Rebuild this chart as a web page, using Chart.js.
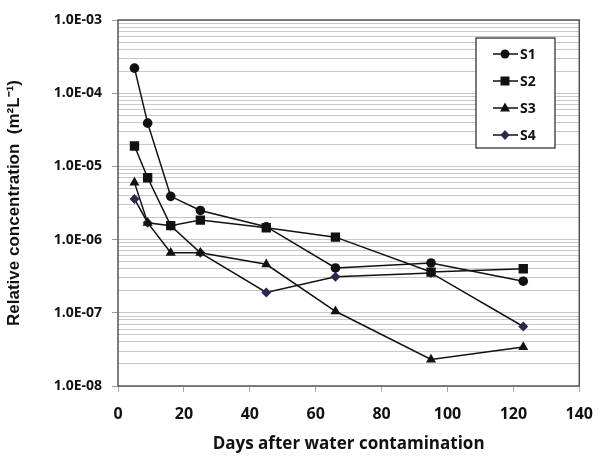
<!DOCTYPE html>
<html>
<head>
<meta charset="utf-8">
<script src="https://cdn.jsdelivr.net/npm/chart.js"></script>
<style>
  html, body { margin: 0; padding: 0; background: #fff; }
  #wrap { width: 606px; height: 458px; }
</style>
</head>
<body>
<div id="wrap"><canvas id="conc-chart" width="606" height="458"></canvas></div>
<script>
// days after contamination
const days = [5, 9, 16, 25, 45, 66, 95, 123];
// relative concentration (m2/L) per site
const s1 = [2.2e-4, 3.9e-5, 3.9e-6, 2.5e-6, 1.5e-6, 4.1e-7, 4.8e-7, 2.7e-7];
const s2 = [1.9e-5, 7.0e-6, 1.55e-6, 1.85e-6, 1.45e-6, 1.08e-6, 3.6e-7, 4.0e-7];
const s3 = [6.0e-6, 1.7e-6, 6.6e-7, 6.6e-7, 4.6e-7, 1.05e-7, 2.3e-8, 3.4e-8];
const s4 = [3.6e-6, 1.7e-6, 1.55e-6, 6.6e-7, 1.9e-7, 3.1e-7, 3.5e-7, 6.5e-8];
const seriesNames = ["S1", "S2", "S3", "S4"];
const xTicks = [0, 20, 40, 60, 80, 100, 120, 140];
const yDecades = [-8, -7, -6, -5, -4, -3];

const canvas = document.getElementById("conc-chart");
const ctx = canvas.getContext("2d");

function toPoints(ys) {
  return days.map((d, i) => ({ x: d, y: ys[i] }));
}

function isDecade(v) {
  const l = Math.log10(v);
  return Math.abs(l - Math.round(l)) < 1e-6;
}

// draw a marker the same way for the legend
function marker(c, style, x, y, color) {
  c.save();
  c.fillStyle = color;
  c.beginPath();
  if (style === "circle") {
    c.arc(x, y, 4.5, 0, Math.PI * 2);
  } else if (style === "rect") {
    c.rect(x - 4.5, y - 4.5, 9, 9);
  } else if (style === "triangle") {
    c.moveTo(x, y - 5.5);
    c.lineTo(x + 5, y + 3.5);
    c.lineTo(x - 5, y + 3.5);
    c.closePath();
  } else {
    c.moveTo(x, y - 5);
    c.lineTo(x + 4.5, y);
    c.lineTo(x, y + 5);
    c.lineTo(x - 4.5, y);
    c.closePath();
  }
  c.fill();
  c.restore();
}

const boxPlugin = {
  id: "boxAndLegend",
  afterDraw(chart) {
    const c = chart.ctx;
    const a = chart.chartArea;
    c.save();
    c.strokeStyle = "#555";
    c.lineWidth = 1.5;
    c.strokeRect(a.left, a.top, a.right - a.left, a.bottom - a.top);

    // legend box inside the plot, top right
    const bx = 476, by = 38, bw = 79, bh = 110;
    c.fillStyle = "#fff";
    c.fillRect(bx, by, bw, bh);
    c.strokeStyle = "#333";
    c.lineWidth = 1.3;
    c.strokeRect(bx, by, bw, bh);
    c.font = "bold 14px 'Open Sans', sans-serif";
    c.textBaseline = "middle";
    chart.data.datasets.forEach((ds, i) => {
      const y = 54 + i * 27;
      c.strokeStyle = "#111";
      c.lineWidth = 1.5;
      c.beginPath();
      c.moveTo(493, y);
      c.lineTo(518, y);
      c.stroke();
      marker(c, ds.pointStyle, 505, y, ds.pointBackgroundColor);
      c.fillStyle = "#111";
      c.fillText(ds.label, 520, y + 1);
    });
    c.restore();
  }
};

const styles = [
  { pointStyle: "circle", radius: 4.8, color: "#111" },
  { pointStyle: "rect", radius: 6.6, color: "#111" },
  { pointStyle: "triangle", radius: 5.8, color: "#111" },
  { pointStyle: "rectRot", radius: 5, color: "#2a2850" }
];

const allSeries = [s1, s2, s3, s4];

const concChart = new Chart(ctx, {
  type: "line",
  data: {
    datasets: allSeries.map((ys, i) => ({
      label: seriesNames[i],
      data: toPoints(ys),
      borderColor: "#111",
      borderWidth: 1.5,
      pointStyle: styles[i].pointStyle,
      pointRadius: styles[i].radius,
      pointBackgroundColor: styles[i].color,
      pointBorderColor: styles[i].color,
      pointBorderWidth: 0,
      fill: false,
      tension: 0
    }))
  },
  options: {
    responsive: false,
    animation: false,
    layout: { padding: { top: 20, right: 18, left: 0, bottom: 0 } },
    plugins: {
      legend: { display: false },
      tooltip: { enabled: false }
    },
    scales: {
      x: {
        type: "linear",
        min: 0,
        max: 140,
        afterBuildTicks: (scale) => {
          scale.ticks = xTicks.map((v) => ({ value: v }));
        },
        afterFit: (scale) => {
          scale.height = 72;
        },
        grid: {
          drawOnChartArea: false,
          drawTicks: true,
          tickLength: 6,
          tickColor: "#aaa"
        },
        border: { display: false },
        ticks: {
          color: "#111",
          padding: 13,
          font: { family: "'Open Sans', sans-serif", size: 16, weight: "bold" }
        },
        title: {
          display: true,
          text: "Days after water contamination",
          color: "#111",
          padding: { top: 0 },
          font: { family: "'Open Sans', sans-serif", size: 17, weight: "bold" }
        }
      },
      y: {
        type: "logarithmic",
        min: 1e-8,
        max: 1e-3,
        afterBuildTicks: (scale) => {
          const t = [];
          yDecades.forEach((e) => {
            const top = e === -3 ? 1 : 9;
            for (let m = 1; m <= top; m++) {
              t.push({ value: m * Math.pow(10, e) });
            }
          });
          scale.ticks = t;
        },
        afterFit: (scale) => {
          scale.width = 118;
        },
        grid: {
          color: "#c8c8c8",
          lineWidth: 1,
          drawTicks: true,
          tickLength: 6,
          tickColor: (c) => (c.tick && isDecade(c.tick.value) ? "#999" : "rgba(0,0,0,0)")
        },
        border: { display: false },
        ticks: {
          color: "#111",
          padding: 10,
          autoSkip: false,
          font: { family: "'Open Sans', sans-serif", size: 14, weight: "bold" },
          callback: (v) => {
            if (!isDecade(v)) return "";
            const e = Math.round(Math.log10(v));
            return "1.0E-" + String(Math.abs(e)).padStart(2, "0");
          }
        },
        title: {
          display: true,
          text: "Relative concentration  (m\u00b2L\u207b\u00b9)",
          color: "#111",
          padding: { bottom: 4 },
          font: { family: "'Liberation Sans', Arial, sans-serif", size: 17, weight: "bold" }
        }
      }
    }
  },
  plugins: [boxPlugin]
});
</script>
</body>
</html>
